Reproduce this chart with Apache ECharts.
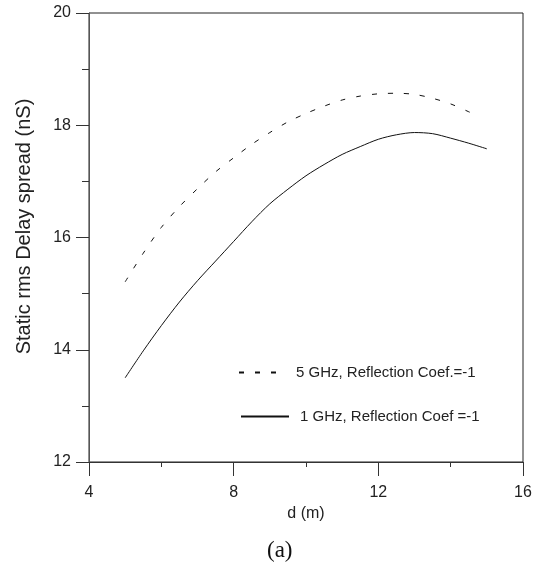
<!DOCTYPE html>
<html>
<head>
<meta charset="utf-8">
<script src="https://cdn.jsdelivr.net/npm/echarts@6/dist/echarts.min.js"></script>
<style>html,body{margin:0;padding:0;background:#fff;}#c{width:537px;height:562px;}</style>
</head>
<body>
<div id="c"></div>
<script>
// Data
var dist5 = [5, 5.5, 6, 6.5, 7, 7.5, 8, 8.5, 9, 9.5, 10, 10.5, 11, 11.5, 12, 12.5, 13, 13.5, 14, 14.5, 14.8];
var delay5 = [15.21, 15.72, 16.18, 16.55, 16.87, 17.17, 17.42, 17.66, 17.87, 18.06, 18.21, 18.34, 18.45, 18.52, 18.56, 18.57, 18.55, 18.48, 18.38, 18.24, 18.15];
var dist1 = [5, 5.5, 6, 6.5, 7, 7.5, 8, 8.5, 9, 9.5, 10, 10.5, 11, 11.5, 12, 12.5, 13, 13.5, 14, 14.5, 15];
var delay1 = [13.50, 13.98, 14.43, 14.85, 15.23, 15.58, 15.93, 16.28, 16.60, 16.86, 17.10, 17.30, 17.48, 17.62, 17.75, 17.83, 17.87, 17.85, 17.77, 17.68, 17.58];
var seriesNames = ['5 GHz, Reflection Coef.=-1', '1 GHz, Reflection Coef =-1'];
var xTicks = [4, 8, 12, 16];
var yTicks = [12, 14, 16, 18, 20];

function zip(xs, ys) { return xs.map(function (x, i) { return [x, ys[i]]; }); }

var chart = echarts.init(document.getElementById('c'), null, { renderer: 'canvas' });
var axisCol = '#333';
var noSymbol = { color: 'rgba(0,0,0,0)', borderColor: 'rgba(0,0,0,0)', borderWidth: 0 };
chart.setOption({
  animation: false,
  backgroundColor: '#fff',
  title: {
    text: '(a)', left: 262, top: 534,
    textStyle: { fontFamily: 'Liberation Serif', fontSize: 23, fontWeight: 'normal', color: '#111' }
  },
  grid: { left: 89, right: 14, top: 13, bottom: 100, show: true, borderColor: '#222', borderWidth: 1, backgroundColor: 'transparent' },
  legend: [
    { data: [seriesNames[0]], left: 233, top: 360, orient: 'vertical', itemWidth: 39, itemHeight: 14,
      itemStyle: noSymbol,
      textStyle: { fontFamily: 'Liberation Sans', fontSize: 15, color: '#222', padding: [0, 0, 0, 13] } },
    { data: [seriesNames[1]], left: 235, top: 404, orient: 'vertical', itemWidth: 48, itemHeight: 14,
      itemStyle: noSymbol,
      textStyle: { fontFamily: 'Liberation Sans', fontSize: 15, color: '#222', padding: [0, 0, 0, 6] } }
  ],
  xAxis: {
    type: 'value', min: xTicks[0], max: xTicks[xTicks.length - 1], interval: 4,
    name: 'd (m)', nameLocation: 'middle', nameGap: 42,
    nameTextStyle: { fontFamily: 'Liberation Sans', fontSize: 16, color: '#222' },
    axisLine: { show: true, lineStyle: { color: axisCol, width: 1 } },
    axisTick: { show: true, length: 14, lineStyle: { color: axisCol } },
    minorTick: { show: true, splitNumber: 2, length: 5, lineStyle: { color: axisCol } },
    axisLabel: { margin: 23, fontFamily: 'Liberation Sans', fontSize: 16, color: '#222' },
    splitLine: { show: false }
  },
  yAxis: {
    type: 'value', min: yTicks[0], max: yTicks[yTicks.length - 1], interval: 2,
    name: 'Static rms Delay spread (nS)', nameLocation: 'middle', nameGap: 55, nameRotate: 90,
    nameTextStyle: { fontFamily: 'Liberation Sans', fontSize: 20, color: '#222', padding: [0, 0, 0, 22] },
    axisLine: { show: true, lineStyle: { color: '#555', width: 1 } },
    axisTick: { show: true, length: 13, lineStyle: { color: axisCol } },
    minorTick: { show: true, splitNumber: 2, length: 7, lineStyle: { color: axisCol } },
    axisLabel: { margin: 18, fontFamily: 'Liberation Sans', fontSize: 16, color: '#222' },
    splitLine: { show: false }
  },
  series: [
    { name: seriesNames[0], type: 'line', data: zip(dist5, delay5), smooth: 0.3, symbol: 'none',
      itemStyle: { color: '#111' },
      lineStyle: { color: '#111', width: 1, type: [5, 11] } },
    { name: seriesNames[1], type: 'line', data: zip(dist1, delay1), smooth: 0.3, symbol: 'none',
      itemStyle: { color: '#111' },
      lineStyle: { color: '#111', width: 1, type: 'solid' } }
  ]
});
</script>
</body>
</html>
